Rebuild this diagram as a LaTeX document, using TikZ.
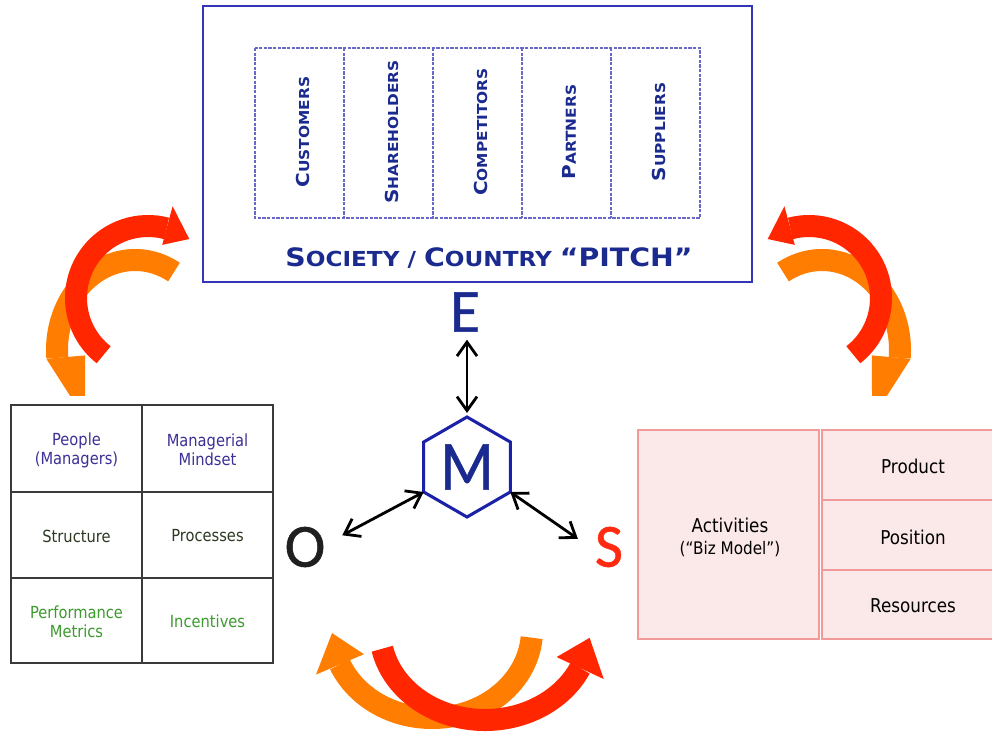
\documentclass[tikz,border=0pt]{standalone}
\usepackage{graphicx}
\usepackage{fontspec}
\setmainfont{DejaVu Sans}[FakeStretch=0.88]
\newfontfamily\capsfont{DejaVu Sans}[FakeStretch=1.12]
\newfontfamily\letterfont{Carlito}[FakeBold=0.8]
\usetikzlibrary{arrows.meta,calc}
\definecolor{navy}{HTML}{1A2A8E}
\definecolor{hexblue}{HTML}{1C22A8}
\definecolor{boxblue}{HTML}{3434B8}
\definecolor{dashblue}{HTML}{6868C8}
\definecolor{redA}{HTML}{FF2600}
\definecolor{orangeA}{HTML}{FF7D00}
\definecolor{purp}{HTML}{3B3096}
\definecolor{olive}{HTML}{2C3A22}
\definecolor{greenA}{HTML}{3C9A2E}
\definecolor{pinkfill}{HTML}{FBE8E8}
\definecolor{pinkline}{HTML}{F29A9A}
\definecolor{gridgray}{HTML}{3A3A3A}
\definecolor{redS}{HTML}{FF2A10}
\newcommand{\BL}[1]{{\fontsize{13.4}{14}\selectfont #1}}
\newcommand{\SL}[1]{{\fontsize{10.3}{11}\selectfont #1}}
\newcommand{\BT}[1]{{\fontsize{19}{20}\selectfont #1}}
\newcommand{\ST}[1]{{\fontsize{15.5}{16}\selectfont #1}}
% head half-widths (outer side / inner side), set before each call
\def\wout{26}\def\win{26}
% colour, cx, cy, rx, ry, start angle, head base angle, tip angle
\newcommand{\bandarrow}[8]{%
  \pgfmathsetmacro{\rxo}{#4+\wout}\pgfmathsetmacro{\ryo}{#5+\wout}%
  \pgfmathsetmacro{\rxi}{#4-\win}\pgfmathsetmacro{\ryi}{#5-\win}%
  \draw[#1, line width=16.5pt] ($(#2,#3)+(#6:{#4} and {#5})$) arc[start angle=#6, end angle=#7, x radius=#4, y radius=#5];
  \fill[#1] ($(#2,#3)+(#7:{\rxo} and {\ryo})$) -- ($(#2,#3)+(#8:{#4} and {#5})$) -- ($(#2,#3)+(#7:{\rxi} and {\ryi})$) -- cycle;%
}
\begin{document}
\begin{tikzpicture}[x=0.75pt,y=-0.75pt,
  conn/.style={{Straight Barb[length=10.5pt,width=15pt]}-{Straight Barb[length=10.5pt,width=15pt]}, line width=2.1pt, black},
  bigletter/.style={font=\letterfont\fontsize{46}{46}\selectfont, inner sep=0pt, outer sep=0pt},
  dashbox/.style={draw=dashblue, line width=1.1pt, dash pattern=on 2.5pt off 1pt},
  collabel/.style={rotate=90, text=navy, font=\capsfont\bfseries, inner sep=0pt},
  gridtext/.style={font=\fontsize{12.5}{14.3}\selectfont, align=center},
  boxtext/.style={font=\fontsize{14.3}{16}\selectfont, text=black, inner sep=0pt},
  gridline/.style={draw=gridgray, line width=1.5pt},
  pinkbox/.style={fill=pinkfill, draw=pinkline, line width=1.3pt}
]
\clip (0,0) rectangle (992,732);
\fill[white] (0,0) rectangle (992,732);

% curved arrows
\begin{scope}
  \clip (0,0) rectangle (992,395);
  \def\wout{11}\def\win{28}
  \bandarrow{orangeA}{135}{350}{78}{90}{300}{175}{130}
  \bandarrow{orangeA}{822}{350}{78}{90}{-120}{5}{50}
\end{scope}
\def\wout{23}\def\win{17}
\bandarrow{redA}{148}{298}{72}{72}{128}{285}{305}
\bandarrow{redA}{809}{298}{72}{72}{52}{-105}{-125}
\def\wout{26}\def\win{26}
\bandarrow{orangeA}{432}{630}{100}{88}{5}{157}{178}
\bandarrow{redA}{485}{630}{105}{90}{168}{25}{5}

% top box
\draw[draw=boxblue, line width=1.2pt] (203,6) rectangle (752,282);
\draw[dashbox] (255,48) rectangle (700,218);
\draw[dashbox] (344,48) -- (344,218);
\draw[dashbox] (433,48) -- (433,218);
\draw[dashbox] (522,48) -- (522,218);
\draw[dashbox] (611,48) -- (611,218);
\node[collabel] (customers) at (302.5,132) {\BL{C}\SL{USTOMERS}};
\node[collabel] (shareholders) at (391.5,132) {\BL{S}\SL{HAREHOLDERS}};
\node[collabel] (competitors) at (480.5,132) {\BL{C}\SL{OMPETITORS}};
\node[collabel] (partners) at (569.5,132) {\BL{P}\SL{ARTNERS}};
\node[collabel] (suppliers) at (658.5,132) {\BL{S}\SL{UPPLIERS}};
\node[text=navy, font=\capsfont\bfseries, inner sep=0pt] (pitch) at (489,258) {\BT{S}\ST{OCIETY / }\BT{C}\ST{OUNTRY }\BT{“PITCH”}};

% centre letters
\node[bigletter, text=navy] (E) at (465,312) {E};
\node[bigletter, text=black!88] (O) at (305,547) {O};
\node[bigletter, text=redS] (S) at (609,547) {S};
\node[circle, minimum size=75pt, inner sep=0pt, outer sep=0pt, text=navy, font=\letterfont\fontsize{53}{53}\selectfont] (M) at (467,467) {\scalebox{0.88}[1]{M}};
\draw[hexblue, line width=2.3pt] (M.90) -- (M.150) -- (M.210) -- (M.270) -- (M.330) -- (M.30) -- cycle;
\draw[conn, shorten <=6pt, shorten >=3pt] (E.south -| M.north) -- (M.north);
\draw[conn] ($(O.30)+(17,0)$) -- (M.210);
\draw[conn] (M.330) -- ($(S.150)+(-17,0)$);

% left grid
\draw[gridline] (11,405) rectangle (273,663);
\draw[gridline] (142,405) -- (142,663);
\draw[gridline] (11,492) -- (273,492);
\draw[gridline] (11,578) -- (273,578);
\node[gridtext, text=purp] (people) at (76.5,450) {People\\(Managers)};
\node[gridtext, text=purp] (mindset) at (207.5,450) {Managerial\\Mindset};
\node[gridtext, text=olive] (structure) at (76.5,536) {Structure};
\node[gridtext, text=olive] (processes) at (207.5,536) {Processes};
\node[gridtext, text=greenA] (metrics) at (76.5,622) {Performance\\Metrics};
\node[gridtext, text=greenA] (incentives) at (207.5,621.5) {Incentives};

% right box
\draw[pinkbox] (638,430) rectangle (819,639);
\draw[pinkbox] (822,430) rectangle (1000,500);
\draw[pinkbox] (822,500) rectangle (1000,570);
\draw[pinkbox] (822,570) rectangle (1000,639);
\node[boxtext] (activities) at (730,525) {Activities};
\node[boxtext, font=\fontsize{13}{15}\selectfont] (bizmodel) at (730,549.5) {(“Biz Model”)};
\node[boxtext] (product) at (913,466) {Product};
\node[boxtext] (position) at (913,537) {Position};
\node[boxtext] (resources) at (913,606) {Resources};
\end{tikzpicture}
\end{document}
